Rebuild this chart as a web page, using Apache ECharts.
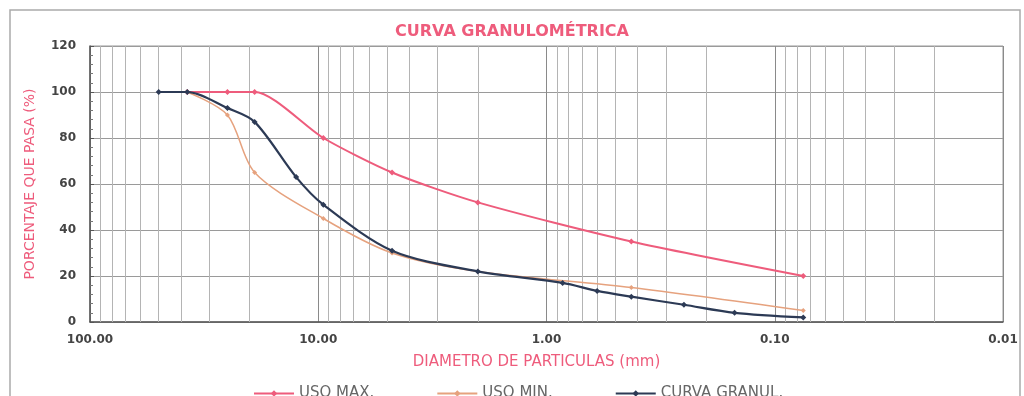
<!DOCTYPE html>
<html>
<head>
<meta charset="utf-8">
<script src="https://cdn.jsdelivr.net/npm/echarts@6/dist/echarts.min.js"></script>
<style>
  html, body { margin: 0; padding: 0; background: #fff; }
  #chart { width: 1024px; height: 396px; }
</style>
</head>
<body>
<div id="chart"></div>
<script>
// Sieve openings (mm) and percent passing for the tested sample
const sieveSizes = [50, 37.5, 25, 19, 12.5, 9.5, 4.75, 2.0, 0.85, 0.6, 0.425, 0.25, 0.15, 0.075];
const curvaGranul = [100, 100, 93, 87, 63, 51, 31, 22, 17, 13.5, 11, 7.5, 4, 2];

// Specification band (upper and lower limits)
const limitSizes = [37.5, 25, 19, 9.5, 4.75, 2.0, 0.425, 0.075];
const usoMax = [100, 100, 100, 80, 65, 52, 35, 20];
const usoMin = [100, 90, 65, 45, 30, 22, 15, 5];

// Log-scale minor grid values (2..9 within each decade)
const minorGrid = [90, 80, 70, 60, 50, 40, 30, 20,
                   9, 8, 7, 6, 5, 4, 3, 2,
                   0.9, 0.8, 0.7, 0.6, 0.5, 0.4, 0.3, 0.2,
                   0.09, 0.08, 0.07, 0.06, 0.05, 0.04, 0.03, 0.02];

const pink = '#ee5c7c';
const tan = '#e6a27e';
const navy = '#2c3a55';
const font = 'DejaVu Sans';

const pairs = (xs, ys) => xs.map((x, i) => [x, ys[i]]);

const chart = echarts.init(document.getElementById('chart'));
chart.setOption({
  animation: false,
  backgroundColor: '#fff',
  title: {
    text: 'CURVA GRANULOMÉTRICA',
    left: 'center',
    top: 19,
    textStyle: { fontFamily: font, fontSize: 16, fontWeight: 'bold', color: pink }
  },
  graphic: [{
    type: 'rect',
    shape: { x: 10, y: 10, width: 1010, height: 400 },
    style: { fill: 'none', stroke: '#aaa', lineWidth: 1.5 },
    silent: true
  }],
  grid: { left: 90, right: 21, top: 46, bottom: 74, show: true, borderColor: '#999', borderWidth: 1 },
  legend: {
    left: 248,
    top: 381,
    itemGap: 62,
    itemWidth: 40,
    itemHeight: 8,
    textStyle: { fontFamily: font, fontSize: 15, color: '#666' },
    data: ['USO MAX.', 'USO MIN.', 'CURVA GRANUL.']
  },
  xAxis: {
    type: 'log',
    logBase: 10,
    min: 0.01,
    max: 100,
    inverse: true,
    name: 'DIAMETRO DE PARTICULAS (mm)',
    nameLocation: 'middle',
    nameGap: 33,
    nameTextStyle: { fontFamily: font, fontSize: 15, color: pink, padding: [0, 20, 0, 0] },
    axisLine: { lineStyle: { color: '#555', width: 1.5 } },
    axisTick: { show: false },
    axisLabel: {
      fontFamily: font, fontSize: 12, fontWeight: 'bold', color: '#444', margin: 12,
      formatter: v => Number(v).toFixed(2)
    },
    splitLine: { show: true, lineStyle: { color: '#8a8a8a', width: 1 } }
  },
  yAxis: {
    type: 'value',
    min: 0,
    max: 120,
    interval: 20,
    name: 'PORCENTAJE QUE PASA (%)',
    nameLocation: 'middle',
    nameGap: 53,
    nameTextStyle: { fontFamily: font, fontSize: 14, color: pink },
    axisLine: { show: true, lineStyle: { color: '#555', width: 1.5 } },
    axisTick: { show: true, inside: true, length: 4, lineStyle: { color: '#555' } },
    minorTick: { show: true, splitNumber: 5, length: 3, lineStyle: { color: '#777' } },
    axisLabel: { fontFamily: font, fontSize: 12, fontWeight: 'bold', color: '#444', margin: 14 },
    splitLine: { show: true, lineStyle: { color: '#9a9a9a', width: 1 } }
  },
  series: [
    {
      name: 'USO MAX.',
      type: 'line',
      smooth: 0.25,
      data: pairs(limitSizes, usoMax),
      symbol: 'diamond',
      symbolSize: 6,
      itemStyle: { color: pink },
      lineStyle: { color: pink, width: 2 },
      z: 3,
      markLine: {
        silent: true,
        symbol: 'none',
        label: { show: false },
        lineStyle: { color: '#b4b4b4', width: 1, type: 'solid' },
        data: minorGrid.map(v => ({ xAxis: v })),
        z: 1
      }
    },
    {
      name: 'USO MIN.',
      type: 'line',
      smooth: 0.3,
      data: pairs(limitSizes, usoMin),
      symbol: 'diamond',
      symbolSize: 5,
      itemStyle: { color: tan },
      lineStyle: { color: tan, width: 1.5 },
      z: 4
    },
    {
      name: 'CURVA GRANUL.',
      type: 'line',
      smooth: 0.3,
      data: pairs(sieveSizes, curvaGranul),
      symbol: 'diamond',
      symbolSize: 6,
      itemStyle: { color: navy },
      lineStyle: { color: navy, width: 2.2 },
      z: 5
    }
  ]
});
</script>
</body>
</html>
